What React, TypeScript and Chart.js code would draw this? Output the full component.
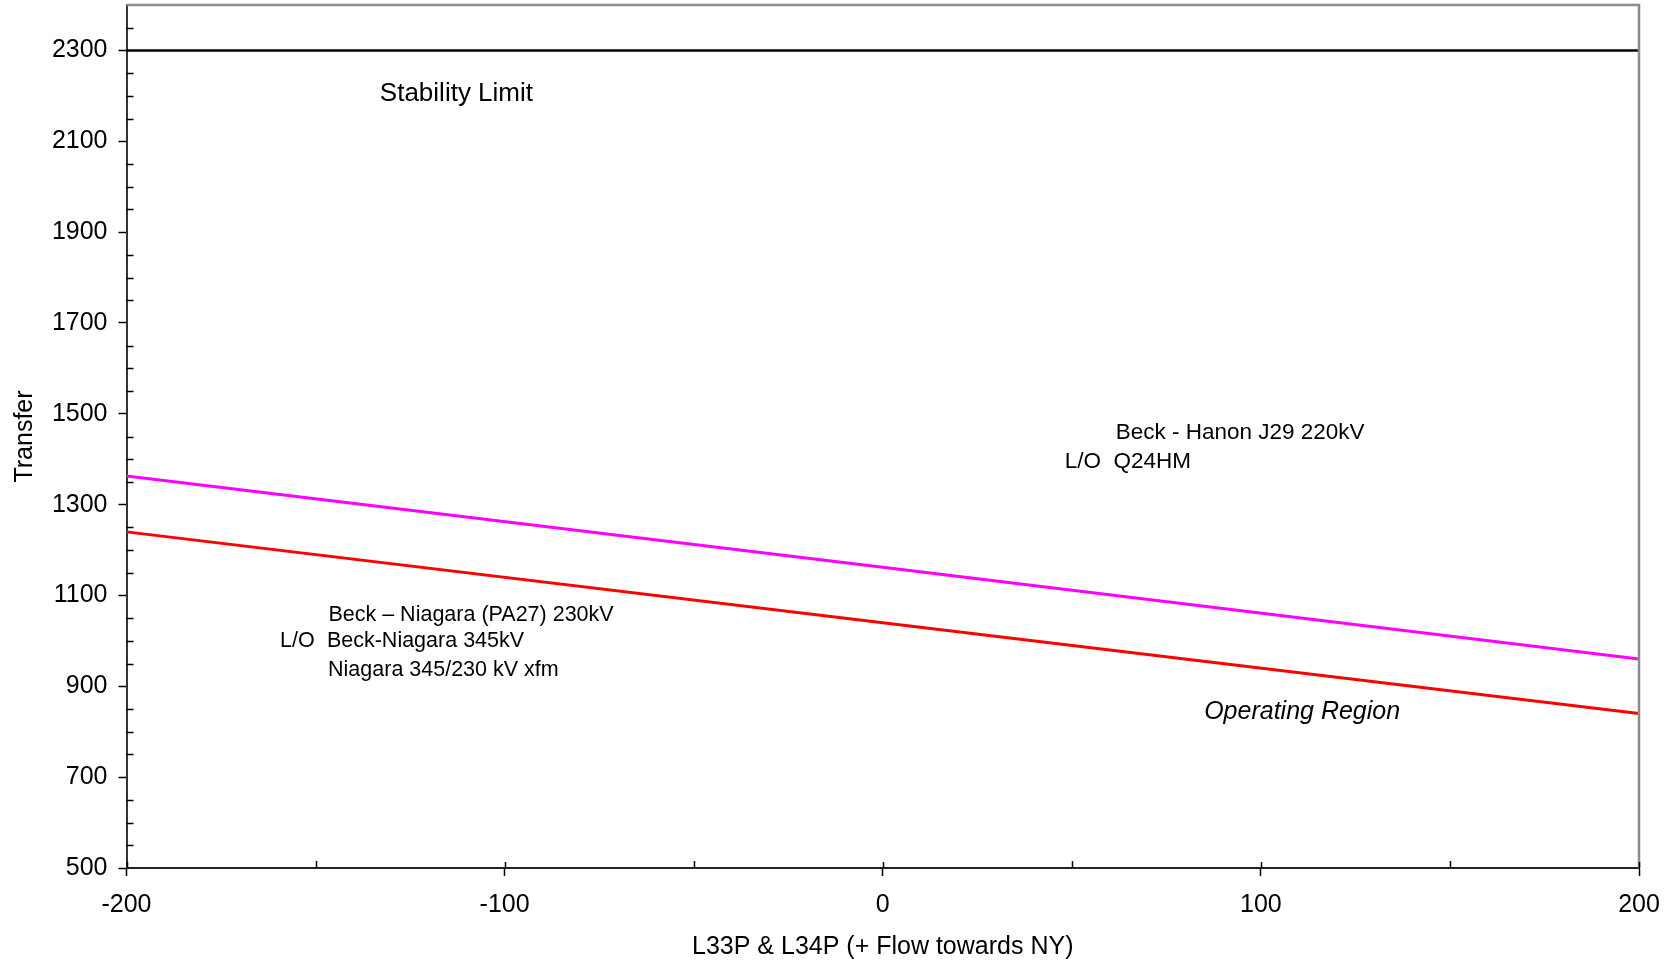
import React, { useEffect, useRef } from 'react';
import { Chart, registerables } from 'chart.js';

Chart.register(...registerables);

// ---- data ----
const xPoints = [-200, 0, 200];
const hanonJ29 = [1363, 1162, 960]; // magenta: Beck - Hanon J29 220kV, L/O Q24HM
const niagaraPA27 = [1240, 1040, 840]; // red: Beck – Niagara (PA27) 230kV
const stabilityLimit = [2300, 2300, 2300];

const xTicks = [-200, -100, 0, 100, 200];
const xMinorTicks = [-150, -50, 50, 150];
const yTicks = [500, 700, 900, 1100, 1300, 1500, 1700, 1900, 2100, 2300];
const yMinorTicks = [
  550, 600, 650, 750, 800, 850, 950, 1000, 1050, 1150, 1200, 1250, 1350, 1400, 1450,
  1550, 1600, 1650, 1750, 1800, 1850, 1950, 2000, 2050, 2150, 2200, 2250, 2350,
];

const xTitle = 'L33P & L34P (+ Flow towards NY)';
const yTitle = 'Transfer';

const annotations = [
  { text: 'Stability Limit', x: -133, y: 2205, size: 26, italic: false },
  { text: 'Beck - Hanon J29 220kV', x: 61.6, y: 1459, size: 22.5, italic: false },
  { text: 'L/O  Q24HM', x: 48.1, y: 1395, size: 22.5, italic: false },
  { text: 'Beck – Niagara (PA27) 230kV', x: -146.6, y: 1056, size: 21.5, italic: false },
  { text: 'L/O', x: -159.4, y: 1000, size: 21.5, italic: false },
  { text: 'Beck-Niagara 345kV', x: -147, y: 1000, size: 21.5, italic: false },
  { text: 'Niagara 345/230 kV xfm', x: -146.7, y: 936, size: 21.5, italic: false },
  { text: 'Operating Region', x: 85, y: 843, size: 25, italic: true },
];

const FONT_FAMILY = '"Liberation Sans", Arial, Helvetica, sans-serif';
const FONT_SIZE = 25;

const toPts = (ys: number[]) => xPoints.map((x, i) => ({ x, y: ys[i] }));

const decorPlugin = {
  id: 'decor',
  afterDraw(chart: any) {
    const ctx = chart.ctx;
    const { left, right, top, bottom } = chart.chartArea;
    const xs = chart.scales.x;
    const ys = chart.scales.y;
    ctx.save();
    // top and right frame
    ctx.strokeStyle = '#8c8c8c';
    ctx.lineWidth = 2.5;
    ctx.beginPath();
    ctx.moveTo(left, top);
    ctx.lineTo(right, top);
    ctx.lineTo(right, bottom);
    ctx.stroke();

    // minor ticks (inward)
    ctx.strokeStyle = '#000';
    ctx.lineWidth = 1.5;
    ctx.beginPath();
    xMinorTicks.forEach((v) => {
      const px = Math.round(xs.getPixelForValue(v)) + 0.5;
      ctx.moveTo(px, bottom);
      ctx.lineTo(px, bottom - 7);
    });
    // major x ticks inward part
    xTicks.forEach((v) => {
      const px = Math.round(xs.getPixelForValue(v)) + 0.5;
      ctx.moveTo(px, bottom);
      ctx.lineTo(px, bottom - 6);
    });
    yMinorTicks.forEach((v) => {
      const py = Math.round(ys.getPixelForValue(v)) + 0.5;
      ctx.moveTo(left, py);
      ctx.lineTo(left + 7, py);
    });
    ctx.stroke();

    // text annotations
    ctx.fillStyle = '#000';
    ctx.textAlign = 'left';
    ctx.textBaseline = 'middle';
    annotations.forEach((a) => {
      ctx.font = `${a.italic ? 'italic ' : ''}${a.size}px ${FONT_FAMILY}`;
      ctx.fillText(a.text, xs.getPixelForValue(a.x), ys.getPixelForValue(a.y));
    });
    ctx.restore();
  },
};

export default function App() {
  const canvasRef = useRef<HTMLCanvasElement | null>(null);

  useEffect(() => {
    if (!canvasRef.current) return;
    const font = { family: FONT_FAMILY, size: FONT_SIZE };
    const chart = new Chart(canvasRef.current, {
      type: 'line',
      data: {
        datasets: [
          {
            label: 'Stability Limit',
            data: toPts(stabilityLimit),
            borderColor: '#000000',
            borderWidth: 2.5,
            pointRadius: 0,
          },
          {
            label: 'Beck - Hanon J29 220kV',
            data: toPts(hanonJ29),
            borderColor: '#ff00ff',
            borderWidth: 3,
            pointRadius: 0,
          },
          {
            label: 'Beck – Niagara (PA27) 230kV',
            data: toPts(niagaraPA27),
            borderColor: '#ff0000',
            borderWidth: 3,
            pointRadius: 0,
          },
        ],
      },
      options: {
        animation: false,
        responsive: false,
        devicePixelRatio: 1,
        layout: { padding: { top: 5, right: 36, left: 0, bottom: 0 } },
        plugins: {
          legend: { display: false },
          tooltip: { enabled: false },
        },
        scales: {
          x: {
            type: 'linear',
            min: -200,
            max: 200,
            afterBuildTicks: (s: any) => {
              s.ticks = xTicks.map((v) => ({ value: v }));
            },
            afterFit: (s: any) => {
              s.height = 96;
              s.paddingLeft = 0;
              s.paddingRight = 0;
              s.paddingTop = 0;
              s.paddingBottom = 0;
            },
            ticks: {
              font,
              color: '#000',
              padding: 14,
              autoSkip: false,
              maxRotation: 0,
              callback: (v: any) => String(v),
            },
            grid: {
              drawOnChartArea: false,
              drawTicks: true,
              tickLength: 8,
              tickColor: '#000',
              tickWidth: 1.5,
            },
            border: { display: true, color: '#222', width: 2 },
            title: {
              display: true,
              text: xTitle,
              font,
              color: '#000',
              padding: { top: 2, bottom: 2 },
            },
          },
          y: {
            type: 'linear',
            min: 500,
            max: 2400,
            afterBuildTicks: (s: any) => {
              s.ticks = yTicks.map((v) => ({ value: v }));
            },
            afterFit: (s: any) => {
              s.width = 126.5;
              s.paddingLeft = 0;
              s.paddingRight = 0;
              s.paddingTop = 0;
              s.paddingBottom = 0;
            },
            ticks: {
              font,
              color: '#000',
              padding: 11,
              autoSkip: false,
              callback: (v: any) => String(v),
            },
            grid: {
              drawOnChartArea: false,
              drawTicks: true,
              tickLength: 8,
              tickColor: '#000',
              tickWidth: 1.5,
            },
            border: { display: true, color: '#333', width: 2 },
            title: {
              display: true,
              text: yTitle,
              font,
              color: '#000',
              padding: { top: 10, bottom: 10 },
            },
          },
        },
      },
      plugins: [decorPlugin],
    } as any);
    return () => chart.destroy();
  }, []);

  return (
    <div style={{ position: 'fixed', left: 0, top: 0, width: 1675, height: 964, background: '#fff' }}>
      <canvas ref={canvasRef} width={1675} height={964} style={{ display: 'block' }} />
    </div>
  );
}
